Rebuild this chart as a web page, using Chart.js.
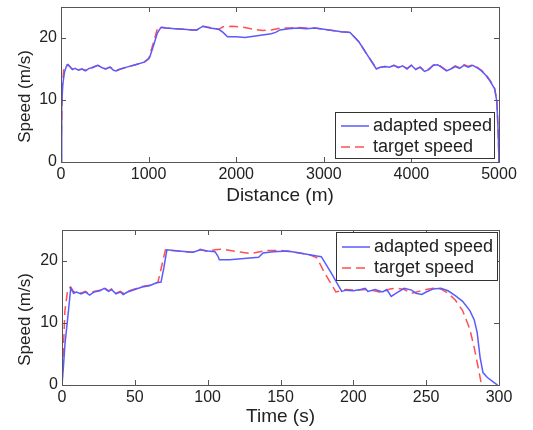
<!DOCTYPE html>
<html>
<head>
<meta charset="utf-8">
<script src="https://cdn.jsdelivr.net/npm/chart.js@4"></script>
<style>
  body { margin: 0; background: #fff; }
  canvas { display: block; }
</style>
</head>
<body>
<canvas id="dist-chart" width="533" height="215"></canvas>
<canvas id="time-chart" width="533" height="215"></canvas>
<script>
// --- Data ---

const seriesNames = ["adapted speed", "target speed"];

// top panel: speed vs distance (m)
const distAdapted = [0, 8, 20, 40, 60, 80, 100, 130, 160, 200, 240, 280, 320, 360, 420, 470, 510, 560, 600, 630, 680, 750, 850, 950, 1010, 1050, 1100, 1140, 1200, 1300, 1400, 1500, 1550, 1620, 1700, 1800, 1850, 1900, 2000, 2100, 2200, 2300, 2400, 2450, 2500, 2600, 2700, 2800, 2900, 3000, 3100, 3200, 3300, 3400, 3500, 3600, 3650, 3700, 3750, 3800, 3850, 3900, 3950, 4000, 4050, 4100, 4150, 4200, 4250, 4300, 4350, 4400, 4450, 4500, 4550, 4600, 4650, 4700, 4750, 4800, 4850, 4900, 4950, 4975, 4990, 5000];
const speedAdaptedD = [0, 9, 12.5, 14.5, 15.4, 15.7, 15.4, 14.9, 15.1, 14.8, 15.0, 14.7, 15.1, 15.2, 15.6, 15.2, 15.0, 15.3, 14.8, 14.7, 15.0, 15.3, 15.7, 16.1, 16.8, 18.5, 20.8, 21.7, 21.6, 21.5, 21.4, 21.3, 21.3, 21.9, 21.6, 21.4, 20.9, 20.2, 20.2, 20.1, 20.3, 20.5, 20.7, 20.9, 21.3, 21.5, 21.6, 21.5, 21.6, 21.4, 21.2, 21.0, 20.9, 19.4, 17.2, 15.0, 15.3, 15.4, 15.3, 15.6, 15.2, 15.5, 15.0, 15.6, 14.9, 15.3, 14.6, 14.9, 15.6, 15.7, 15.2, 14.7, 15.0, 15.4, 15.1, 15.6, 15.3, 15.6, 15.2, 14.7, 14.0, 13.0, 11.8, 9.8, 5, 0];
const distTarget = [0, 5, 15, 30, 50, 80, 100, 130, 160, 200, 240, 280, 320, 360, 420, 470, 510, 560, 600, 630, 680, 750, 850, 950, 1000, 1050, 1100, 1140, 1200, 1300, 1400, 1500, 1550, 1620, 1700, 1800, 1850, 1950, 2100, 2200, 2300, 2400, 2500, 2600, 2700, 2800, 2900, 3000, 3100, 3200, 3300, 3400, 3500, 3600, 3650, 3700, 3750, 3800, 3850, 3900, 3950, 4000, 4050, 4100, 4150, 4200, 4250, 4300, 4350, 4400, 4450, 4500, 4550, 4600, 4650, 4700, 4750, 4800, 4850, 4900, 4950, 4975, 4990, 5000];
const speedTargetD = [0, 5, 12, 14.8, 15.6, 15.7, 15.4, 15.0, 15.1, 14.9, 15.0, 14.8, 15.1, 15.3, 15.6, 15.3, 15.0, 15.3, 14.9, 14.8, 15.0, 15.3, 15.7, 16.1, 16.6, 19.0, 21.5, 21.8, 21.6, 21.5, 21.4, 21.3, 21.3, 21.9, 21.7, 21.4, 21.8, 21.9, 21.7, 21.4, 21.2, 21.3, 21.6, 21.6, 21.7, 21.6, 21.6, 21.4, 21.2, 21.0, 20.9, 19.4, 17.2, 15.1, 15.3, 15.4, 15.3, 15.6, 15.3, 15.5, 15.1, 15.6, 15.0, 15.3, 14.7, 15.0, 15.6, 15.8, 15.3, 14.8, 15.0, 15.5, 15.2, 15.7, 15.4, 15.7, 15.3, 14.8, 14.1, 13.1, 11.9, 10.0, 5, 0];

// bottom panel: speed vs time (s)
const timeAdapted = [0, 1, 2, 4, 6, 8, 10, 13, 16, 19, 22, 26, 29, 32, 34, 37, 40, 42, 45, 50, 55, 60, 65, 68, 70, 72, 80, 90, 95, 100, 105, 107, 108, 115, 125, 135, 138, 145, 155, 165, 170, 175, 178, 185, 192, 195, 200, 205, 208, 210, 215, 220, 223, 226, 230, 235, 240, 243, 247, 250, 255, 260, 265, 270, 275, 280, 283, 285, 287, 289, 292, 296, 299];
const speedAdaptedT = [0, 3, 6.5, 11, 15.6, 14.8, 15.0, 14.7, 15.0, 14.5, 15.0, 15.2, 15.6, 15.1, 15.4, 14.7, 15.0, 14.6, 15.0, 15.4, 15.8, 16.0, 16.5, 16.6, 19.0, 21.8, 21.6, 21.4, 21.8, 21.6, 21.5, 20.8, 20.2, 20.2, 20.4, 20.6, 21.3, 21.5, 21.6, 21.2, 21.0, 20.8, 20.7, 18.0, 15.1, 15.3, 15.2, 15.4, 15.6, 15.1, 15.4, 15.0, 15.4, 14.3, 14.9, 15.6, 15.3, 14.8, 14.6, 15.0, 15.5, 15.6, 15.2, 14.4, 13.5, 12.0, 10.5, 8.5, 4.5, 2.0, 1.2, 0.5, 0];
const timeTarget = [0, 1, 2, 4, 6, 8, 10, 13, 16, 19, 22, 26, 29, 32, 34, 37, 40, 42, 45, 50, 55, 60, 64, 66, 71, 80, 90, 95, 100, 105, 110, 120, 130, 140, 150, 160, 170, 175, 180, 188, 195, 200, 210, 220, 225, 230, 235, 240, 245, 250, 255, 260, 265, 270, 275, 280, 283, 286, 288];
const speedTargetT = [0, 6, 12, 15.5, 15.8, 15.0, 15.1, 14.8, 15.1, 14.7, 15.1, 15.3, 15.7, 15.2, 15.5, 14.8, 15.1, 14.8, 15.1, 15.5, 15.9, 16.1, 16.3, 16.7, 21.8, 21.6, 21.4, 21.9, 21.5, 21.8, 21.9, 21.5, 21.2, 21.7, 21.7, 21.4, 21.0, 20.5, 18.2, 15.0, 15.4, 15.3, 15.4, 14.9, 15.5, 15.6, 15.4, 14.8, 15.1, 15.4, 15.6, 15.5, 14.8, 13.7, 12.0, 9.0, 6.0, 2.5, 0];

const distTicks = [0, 1000, 2000, 3000, 4000, 5000];
const timeTicks = [0, 50, 100, 150, 200, 250, 300];
const speedTicks = [0, 10, 20];
const yTitle = "Speed (m/s)";

// --- Helpers ---

const FONT = "'Liberation Sans', Arial, sans-serif";
const BLUE = "#5a5aff";
const RED = "#ff5050";

function pts(xs, ys) {
  return xs.map((x, i) => ({ x, y: ys[i] }));
}

function fixedTicks(values) {
  return scale => { scale.ticks = values.map(v => ({ value: v })); };
}

// MATLAB-like box, inward ticks, y title and a legend inside the axes
const matlabFrame = {
  id: "matlabFrame",
  afterDatasetsDraw(chart, args, opts) {
    const { ctx, chartArea: a, scales: { x, y } } = chart;
    ctx.save();
    ctx.strokeStyle = "#555";
    ctx.lineWidth = 1;
    ctx.strokeRect(a.left + 0.5, a.top + 0.5, a.right - a.left, a.bottom - a.top);
    ctx.beginPath();
    x.ticks.forEach(t => {
      const px = Math.round(x.getPixelForValue(t.value)) + 0.5;
      ctx.moveTo(px, a.bottom); ctx.lineTo(px, a.bottom - 5);
      ctx.moveTo(px, a.top); ctx.lineTo(px, a.top + 5);
    });
    y.ticks.forEach(t => {
      const py = Math.round(y.getPixelForValue(t.value)) + 0.5;
      ctx.moveTo(a.left, py); ctx.lineTo(a.left + 5, py);
      ctx.moveTo(a.right, py); ctx.lineTo(a.right - 5, py);
    });
    ctx.stroke();

    // y axis title (sits a little below the axes centre, as in the figure)
    ctx.save();
    ctx.translate(25, (a.top + a.bottom) / 2 + 12);
    ctx.rotate(-Math.PI / 2);
    ctx.font = "17px " + FONT;
    ctx.fillStyle = "#222";
    ctx.textAlign = "center";
    ctx.textBaseline = "middle";
    ctx.fillText(yTitle, 0, 0);
    ctx.restore();

    // legend
    const b = opts.box;
    ctx.fillStyle = "#fff";
    ctx.fillRect(b.x, b.y, b.w, b.h);
    ctx.strokeStyle = "#333";
    ctx.strokeRect(b.x + 0.5, b.y + 0.5, b.w, b.h);
    ctx.font = "18px " + FONT;
    ctx.textBaseline = "middle";
    chart.data.datasets.forEach((ds, i) => {
      const ry = b.y + b.rowTop + i * b.rowGap;
      ctx.strokeStyle = ds.borderColor;
      ctx.lineWidth = 1.5;
      ctx.setLineDash(ds.borderDash || []);
      ctx.beginPath();
      ctx.moveTo(b.x + 6, ry); ctx.lineTo(b.x + 34, ry);
      ctx.stroke();
      ctx.setLineDash([]);
      ctx.fillStyle = "#222";
      ctx.fillText(ds.label, b.x + 38, ry);
    });
    ctx.restore();
  }
};

function makeChart(id, adapted, target, xMax, xTicks, xTitle, layout, box) {
  return new Chart(document.getElementById(id).getContext("2d"), {
    type: "line",
    data: {
      datasets: [
        { label: seriesNames[0], data: adapted, borderColor: BLUE, borderWidth: 1.5, pointRadius: 0, tension: 0 },
        { label: seriesNames[1], data: target, borderColor: RED, borderWidth: 1.5, borderDash: [9, 5], pointRadius: 0, tension: 0 }
      ]
    },
    options: {
      responsive: false,
      animation: false,
      devicePixelRatio: 1,
      layout: { padding: { top: layout.top, right: 34, left: 0, bottom: 0 } },
      plugins: {
        legend: { display: false },
        tooltip: { enabled: false },
        matlabFrame: { box }
      },
      scales: {
        x: {
          type: "linear", min: 0, max: xMax,
          afterBuildTicks: fixedTicks(xTicks),
          afterFit: s => { s.height = layout.xHeight; s.paddingLeft = 0; s.paddingRight = 0; },
          grid: { display: false, drawTicks: false },
          border: { display: false },
          ticks: { padding: 3, color: "#222", font: { family: FONT, size: 16 }, callback: v => String(v) },
          title: { display: true, text: xTitle, color: "#222", font: { family: FONT, size: 19 }, padding: { top: layout.titlePad, bottom: layout.titlePad } }
        },
        y: {
          type: "linear", min: 0, max: 25,
          afterBuildTicks: fixedTicks(speedTicks),
          afterFit: s => { s.width = layout.yWidth; s.paddingTop = 0; s.paddingBottom = 0; },
          grid: { display: false, drawTicks: false },
          border: { display: false },
          ticks: { padding: 4, color: "#222", font: { family: FONT, size: 16 }, callback: v => String(v) },
          title: { display: false }
        }
      }
    },
    plugins: [matlabFrame]
  });
}

window.addEventListener("DOMContentLoaded", () => {
  makeChart("dist-chart", pts(distAdapted, speedAdaptedD), pts(distTarget, speedTargetD),
    5000, distTicks, "Distance (m)",
    { top: 7, xHeight: 53, yWidth: 61, titlePad: 8 },
    { x: 335, y: 112, w: 159, h: 46, rowTop: 14, rowGap: 21 });
  makeChart("time-chart", pts(timeAdapted, speedAdaptedT), pts(timeTarget, speedTargetT),
    300, timeTicks, "Time (s)",
    { top: 15, xHeight: 45, yWidth: 62, titlePad: 2 },
    { x: 336, y: 17, w: 161, h: 48, rowTop: 15, rowGap: 21 });
});
</script>
</body>
</html>
